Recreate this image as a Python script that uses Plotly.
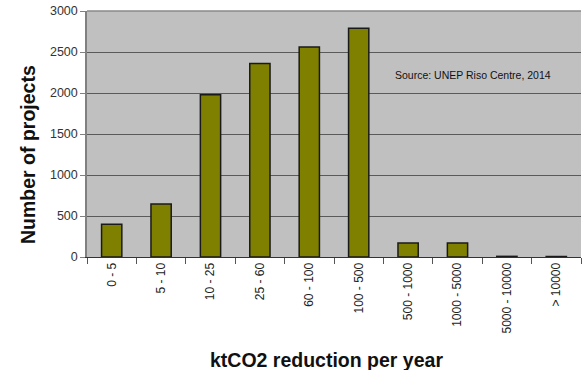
import plotly.graph_objects as go

categories = ["0 - 5", "5 - 10", "10 - 25", "25 - 60", "60 - 100", "100 - 500",
              "500 - 1000", "1000 - 5000", "5000 - 10000", "> 10000"]
projects = [400, 645, 1980, 2360, 2560, 2790, 170, 170, 8, 6]
y_ticks = [0, 500, 1000, 1500, 2000, 2500, 3000]

W, H = 582, 370
L, R, T, B = 87, 1, 11, 113
PW, PH = W - L - R, H - T - B

fig = go.Figure(go.Bar(
    x=categories, y=projects,
    marker=dict(color="#808000", line=dict(color="#1a1a1a", width=1.5)),
    width=0.41,
))

fig.update_layout(
    width=W, height=H,
    margin=dict(l=L, r=R, t=T, b=B),
    paper_bgcolor="white", plot_bgcolor="#c0c0c0",
    font=dict(family="Liberation Sans, Arial", size=12, color="#222"),
    showlegend=False,
)
fig.update_yaxes(
    range=[0, 3000], tickvals=y_ticks, showgrid=True, gridcolor="#5a5a5a", gridwidth=1,
    showline=True, linecolor="#808080", linewidth=1.5, ticks="outside", ticklen=5,
    tickcolor="#808080", tickfont=dict(size=12.5, color="#333"), zeroline=False,
)
fig.update_xaxes(
    tickangle=-90, ticks="outside", tickson="boundaries", ticklen=6, tickcolor="#555",
    showline=True, linecolor="#333", linewidth=1, tickfont=dict(size=12, color="#222"),
)
# top border of plot area
fig.add_shape(type="line", xref="paper", yref="paper", x0=0, x1=1, y0=1, y1=1,
              line=dict(color="#8a8a8a", width=1.5))

fig.add_annotation(text="Source: UNEP Riso Centre, 2014", xref="paper", yref="y",
                   x=(393 - L) / PW, y=2220, xanchor="left", yanchor="middle",
                   showarrow=False, font=dict(size=10.5, color="#111"))
fig.add_annotation(text="<b>Number of projects</b>", xref="paper", yref="paper",
                   x=(15 - L) / PW, y=(H - B - 155) / PH,
                   textangle=-90, showarrow=False, font=dict(size=19.5, color="#111"))
fig.add_annotation(text="<b>ktCO2 reduction per year</b>", xref="paper", yref="paper",
                   x=(326 - L) / PW, y=-(373 - (H - B)) / PH,
                   showarrow=False, font=dict(size=19.5, color="#111"))
# partially visible blue title, cut off at the top of the image
fig.add_annotation(text="<b>Size of projects</b>", xref="paper", yref="paper",
                   x=(162 - L) / PW, y=1 + 10 / PH,
                   xanchor="left", yanchor="bottom", showarrow=False,
                   font=dict(size=24, color="#1030c0"))

fig.write_html("out.html", config={"displayModeBar": False},
               post_script="document.body.style.margin='0';")
